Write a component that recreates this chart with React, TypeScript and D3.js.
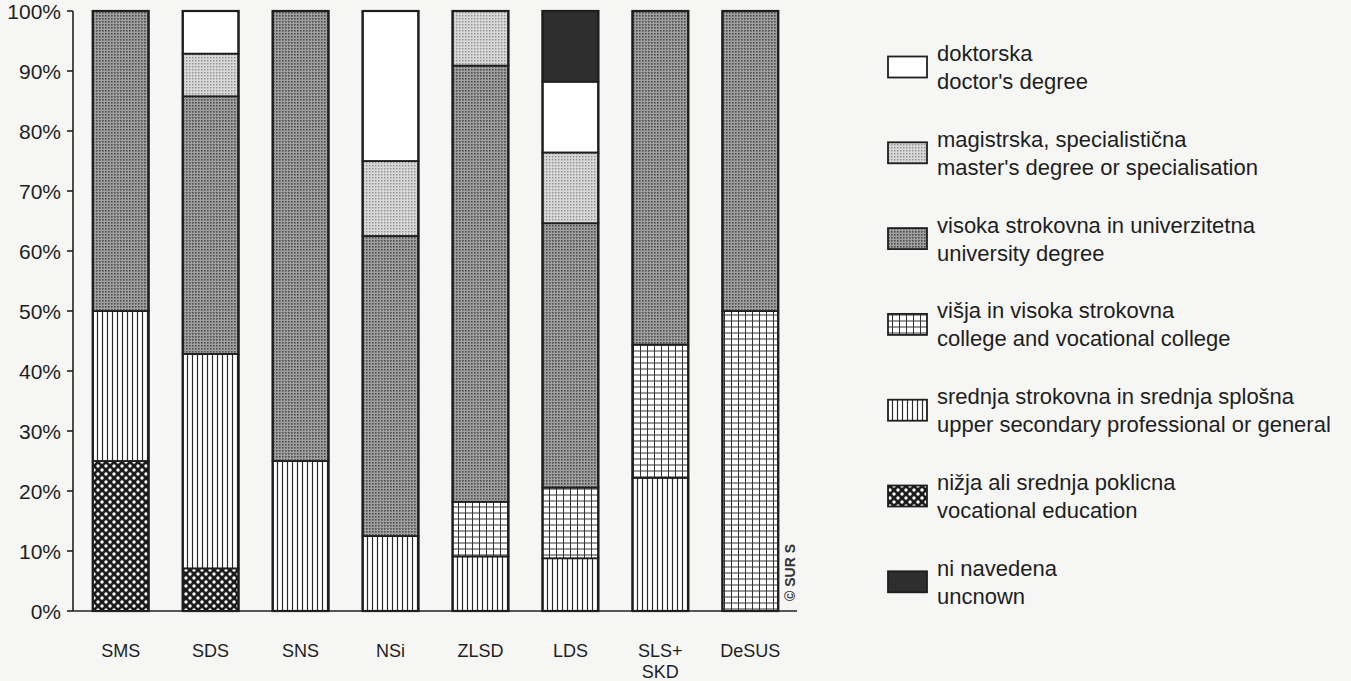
import React from "react";
import * as d3 from "d3";

const categories = ["SMS", "SDS", "SNS", "NSi", "ZLSD", "LDS", "SLS+SKD", "DeSUS"];

const vocational = [25, 7.1, 0, 0, 0, 0, 0, 0];
const upperSecondary = [25, 35.7, 25, 12.5, 9.1, 8.8, 22.2, 0];
const college = [0, 0, 0, 0, 9.1, 11.8, 22.2, 50];
const university = [50, 42.9, 75, 50, 72.7, 44.1, 55.6, 50];
const masters = [0, 7.1, 0, 12.5, 9.1, 11.8, 0, 0];
const doctors = [0, 7.1, 0, 25, 0, 11.8, 0, 0];
const unknown = [0, 0, 0, 0, 0, 11.8, 0, 0];

const seriesKeys = ["vocational", "upperSecondary", "college", "university", "masters", "doctors", "unknown"];
const seriesValues: Record<string, number[]> = {
  vocational, upperSecondary, college, university, masters, doctors, unknown,
};

const yTicks = [0, 0.1, 0.2, 0.3, 0.4, 0.5, 0.6, 0.7, 0.8, 0.9, 1];

// legend order top -> bottom
const legendKeys = ["doctors", "masters", "university", "college", "upperSecondary", "vocational", "unknown"];
const legendLabels: Record<string, [string, string]> = {
  doctors: ["doktorska", "doctor's degree"],
  masters: ["magistrska, specialistična", "master's degree or specialisation"],
  university: ["visoka strokovna in univerzitetna", "university degree"],
  college: ["višja in visoka strokovna", "college and vocational college"],
  upperSecondary: ["srednja strokovna in srednja splošna", "upper secondary professional or general"],
  vocational: ["nižja ali srednja poklicna", "vocational education"],
  unknown: ["ni navedena", "uncnown"],
};

const fills: Record<string, string> = {
  vocational: "url(#pVoc)",
  upperSecondary: "url(#pUpper)",
  college: "url(#pCollege)",
  university: "url(#pUni)",
  masters: "url(#pMast)",
  doctors: "#ffffff",
  unknown: "#2e2e2e",
};

const W = 1351;
const H = 681;
const FONT = "'Liberation Sans', Arial, Helvetica, sans-serif";

export default function App() {
  const rows = categories.map((c, i) => {
    const r: any = { cat: c };
    seriesKeys.forEach((k) => (r[k] = seriesValues[k][i]));
    return r;
  });
  const stacked = d3.stack<any>().keys(seriesKeys).offset(d3.stackOffsetExpand)(rows);

  const x = d3.scaleBand<string>().domain(categories).range([73, 798]).paddingInner(0.38).paddingOuter(0.22);
  const y = d3.scaleLinear().domain([0, 1]).range([611, 11]);
  const bw = x.bandwidth();

  const legendX = 888;
  const legendTextX = 937;
  const legendY0 = 53;
  const legendStep = 85.8;

  return (
    <svg width={W} height={H} style={{ position: "absolute", left: 0, top: 0, background: "#f6f6f5" }} fontFamily={FONT}>
      <defs>
        <pattern id="pVoc" width="8" height="8" patternUnits="userSpaceOnUse">
          <rect width="8" height="8" fill="#1c1c1c" />
          <circle cx="2" cy="2" r="1.7" fill="#ffffff" />
          <circle cx="6" cy="6" r="1.7" fill="#ffffff" />
        </pattern>
        <pattern id="pUpper" width="5" height="5" patternUnits="userSpaceOnUse">
          <rect width="5" height="5" fill="#ffffff" />
          <line x1="2.5" y1="0" x2="2.5" y2="5" stroke="#2a2a2a" strokeWidth="1.2" />
        </pattern>
        <pattern id="pCollege" width="7" height="6" patternUnits="userSpaceOnUse">
          <rect width="7" height="6" fill="#ffffff" />
          <line x1="3.5" y1="0" x2="3.5" y2="6" stroke="#333" strokeWidth="1" />
          <line x1="0" y1="3" x2="7" y2="3" stroke="#333" strokeWidth="1" />
        </pattern>
        <pattern id="pUni" width="3" height="3" patternUnits="userSpaceOnUse">
          <rect width="3" height="3" fill="#a0a0a0" />
          <rect x="0" y="0" width="1.6" height="1.6" fill="#4c4c4c" />
        </pattern>
        <pattern id="pMast" width="3" height="3" patternUnits="userSpaceOnUse">
          <rect width="3" height="3" fill="#d8d8d8" />
          <rect x="0" y="0" width="1.4" height="1.4" fill="#8e8e8e" />
        </pattern>
      </defs>

      {/* bars */}
      {stacked.map((s) => (
        <g key={s.key}>
          {s.map((d, i) => {
            const h = y(d[0]) - y(d[1]);
            if (h <= 0.01) return null;
            return (
              <rect
                key={i}
                x={x(categories[i])}
                y={y(d[1])}
                width={bw}
                height={h}
                fill={fills[s.key]}
                stroke="#1e1e1e"
                strokeWidth={1.8}
              />
            );
          })}
        </g>
      ))}
      {categories.map((c) => (
        <rect key={c} x={x(c)} y={y(1)} width={bw} height={y(0) - y(1)} fill="none" stroke="#1e1e1e" strokeWidth={2.2} />
      ))}

      {/* y axis */}
      <line x1={73} y1={y(1)} x2={73} y2={y(0)} stroke="#222" strokeWidth={1.6} />
      <line x1={73} y1={y(0)} x2={797} y2={y(0)} stroke="#222" strokeWidth={1.6} />
      {yTicks.map((t) => (
        <g key={t}>
          <line x1={67} x2={73} y1={y(t)} y2={y(t)} stroke="#222" strokeWidth={1.6} />
          <text x={61} y={y(t)} dy="0.36em" textAnchor="end" fontSize={21} fill="#1e1e1e">
            {d3.format(".0%")(t)}
          </text>
        </g>
      ))}

      {/* x labels */}
      {categories.map((c) => {
        const lines = c.split(/(?<=\+)/);
        return (
          <text key={c} x={(x(c) as number) + bw / 2} y={657} textAnchor="middle" fontSize={18} fill="#1e1e1e">
            {lines.map((l, j) => (
              <tspan key={j} x={(x(c) as number) + bw / 2} dy={j === 0 ? 0 : 21}>
                {l}
              </tspan>
            ))}
          </text>
        );
      })}

      {/* copyright */}
      <text transform="translate(795,601) rotate(-90)" fontSize={14} fontWeight="bold" fill="#333">
        © SUR S
      </text>

      {/* legend */}
      {legendKeys.map((k, i) => {
        const cy = legendY0 + i * legendStep;
        const mid = cy + 14;
        return (
          <g key={k}>
            <rect x={legendX} y={mid - 10.5} width={39} height={21} fill={fills[k]} stroke="#1e1e1e" strokeWidth={1.8} />
            <text x={legendTextX} y={cy} dy="0.36em" fontSize={22} fill="#1e1e1e">
              {legendLabels[k][0]}
            </text>
            <text x={legendTextX} y={cy + 28} dy="0.36em" fontSize={22} fill="#1e1e1e">
              {legendLabels[k][1]}
            </text>
          </g>
        );
      })}
    </svg>
  );
}
